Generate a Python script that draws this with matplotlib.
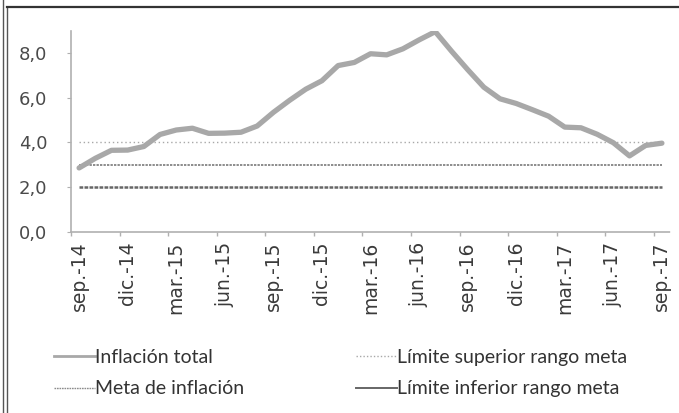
import matplotlib
matplotlib.use("Agg")
import matplotlib.pyplot as plt
from matplotlib.lines import Line2D
import numpy as np

plt.rcParams['font.family'] = ['Lato', 'DejaVu Sans']

months = ["sep.-14", "oct.-14", "nov.-14", "dic.-14",
          "ene.-15", "feb.-15", "mar.-15", "abr.-15", "may.-15", "jun.-15",
          "jul.-15", "ago.-15", "sep.-15", "oct.-15", "nov.-15", "dic.-15",
          "ene.-16", "feb.-16", "mar.-16", "abr.-16", "may.-16", "jun.-16",
          "jul.-16", "ago.-16", "sep.-16", "oct.-16", "nov.-16", "dic.-16",
          "ene.-17", "feb.-17", "mar.-17", "abr.-17", "may.-17", "jun.-17",
          "jul.-17", "ago.-17", "sep.-17"]
inflacion_total = [2.86, 3.29, 3.65, 3.66,
                   3.82, 4.36, 4.56, 4.64, 4.41, 4.42, 4.46, 4.74, 5.35, 5.89, 6.39, 6.77,
                   7.45, 7.59, 7.98, 7.93, 8.20, 8.60, 8.97, 8.10, 7.27, 6.48, 5.96, 5.75,
                   5.47, 5.18, 4.69, 4.66, 4.37, 3.99, 3.40, 3.87, 3.97]
limite_superior = [4.0] * len(months)
meta_inflacion = [3.0] * len(months)
limite_inferior = [2.0] * len(months)
y_ticks = [0, 2, 4, 6, 8]
y_labels = ["0,0", "2,0", "4,0", "6,0", "8,0"]

W, H = 679, 413
fig = plt.figure(figsize=(W / 100, H / 100), dpi=100)
ax = fig.add_axes([71 / W, 1 - 231.7 / H, (670 - 71) / W, (231.7 - 31) / H])

x = np.arange(len(months))
ax.plot(x, inflacion_total, color='#a8a8a8', lw=3.8, solid_capstyle='round',
        solid_joinstyle='round', label='Inflación total', zorder=4)
ax.plot(x, meta_inflacion, color='#8c8c8c', lw=1.4, ls=(0, (1.2, 0.6)),
        label='Meta de inflación', zorder=3)
ax.plot(x, limite_superior, color='#a8a8a8', lw=1.0, ls=(0, (1, 2)),
        label='Límite superior rango meta', zorder=3)
ax.plot(x, limite_inferior, color='#666666', lw=1.8, ls=(0, (1.5, 0.5)),
        label='Límite inferior rango meta', zorder=3)

ax.set_xlim(-0.5, len(months) - 0.5)
ax.set_ylim(0, 9)
ax.set_yticks(y_ticks)
ax.set_yticklabels(y_labels, fontfamily='DejaVu Sans')
ax.set_xticks(x[::3])
ax.set_xticklabels(months[::3], rotation=90, fontfamily='DejaVu Sans')
ax.set_xticks(np.arange(-0.5, len(months), 3), minor=True)
ax.tick_params(axis='x', which='major', length=0, pad=7, labelsize=13.5, colors='#3a3a3a')
ax.tick_params(axis='x', which='minor', length=3, color='#b0b0b0', width=1)
ax.tick_params(axis='y', length=3, color='#b0b0b0', pad=14, labelsize=13,
               labelcolor='#4a4a4a')

for s in ['top', 'right']:
    ax.spines[s].set_visible(False)
for s in ['left', 'bottom']:
    ax.spines[s].set_color('#b0b0b0')
    ax.spines[s].set_linewidth(1.2)
    ax.spines[s].set_linestyle((0, (1, 1)))

handles, labels = ax.get_legend_handles_labels()
leg_handles = [Line2D([], [], color='#a8a8a8', lw=2.0),
               Line2D([], [], color='#8c8c8c', lw=1.0, ls=(0, (1.2, 0.6))),
               Line2D([], [], color='#a8a8a8', lw=1.0, ls=(0, (1, 1.5))),
               Line2D([], [], color='#666666', lw=1.4)]
leg = fig.legend(leg_handles, labels, ncol=2, loc='upper left',
                 bbox_to_anchor=(44 / W, 1 - 339 / H), frameon=False,
                 fontsize=14, handlelength=2.1, handletextpad=0.0,
                 columnspacing=5.8, labelspacing=0.75, borderpad=0)
for t in leg.get_texts():
    t.set_color('#333333')

# document frame (scan border)
fig.add_artist(Line2D([2.5 / W, 2.5 / W], [0, 1], color='#555555', lw=1.0, transform=fig.transFigure))
fig.add_artist(Line2D([6.5 / W, 6.5 / W], [0, 1 - 7 / H], color='#555555', lw=1.0, transform=fig.transFigure))
fig.add_artist(Line2D([6.5 / W, 1], [1 - 7 / H, 1 - 7 / H], color='#333333', lw=1.6, transform=fig.transFigure))

fig.savefig('out.png', dpi=100)
